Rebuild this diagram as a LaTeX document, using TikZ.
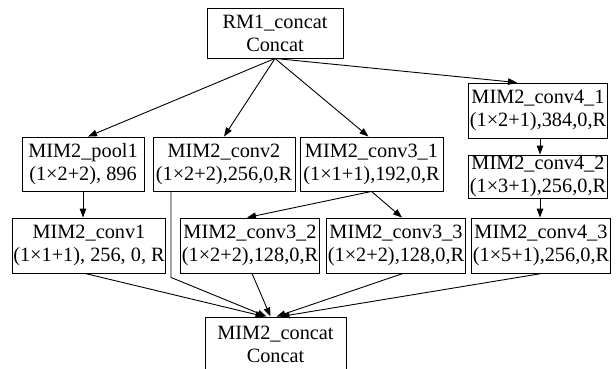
\documentclass[tikz,border=0pt]{standalone}
\usepackage{fontspec}
\setmainfont{Liberation Serif}
\usepackage{tikz}
\usetikzlibrary{arrows.meta,positioning}

\begin{document}
\begin{tikzpicture}[
  x=1pt,y=-1pt,
  font=\fontsize{20.3}{23}\selectfont,
  blk/.style={draw,line width=0.9pt,align=center,inner sep=1pt,
              minimum height=55pt},
  a/.style={-{Triangle[length=9pt,width=6.5pt]},line width=0.9pt}]
\useasboundingbox (0,0) rectangle (616,369);

\node[blk,minimum width=136pt,minimum height=50pt] (rmc) at (275,33)  {RM1\_concat\\Concat};
\node[blk,minimum width=122pt,minimum height=54pt] (pool) at (83,164)  {MIM2\_pool1\\(1×2+2), 896};
\node[blk,minimum width=142pt,minimum height=54pt] (cv2)  at (224,164) {MIM2\_conv2\\(1×2+2),256,0,R};
\node[blk,minimum width=143pt,minimum height=54pt] (cv31) at (371.5,164) {MIM2\_conv3\_1\\(1×1+1),192,0,R};
\node[blk,minimum width=138pt] (cv41) at (538,110.5) {MIM2\_conv4\_1\\(1×2+1),384,0,R};
\node[blk,minimum width=138pt,minimum height=43pt] (cv42) at (538,176.5) {MIM2\_conv4\_2\\(1×3+1),256,0,R};

\node[blk,minimum width=152pt] (cv1)  at (89,245.5)  {MIM2\_conv1\\(1×1+1), 256, 0, R};
\node[blk,minimum width=136pt] (cv32) at (250,245.5) {MIM2\_conv3\_2\\(1×2+2),128,0,R};
\node[blk,minimum width=134pt] (cv33) at (396,245.5) {MIM2\_conv3\_3\\(1×2+2),128,0,R};
\node[blk,minimum width=136pt] (cv43) at (541,245.5) {MIM2\_conv4\_3\\(1×5+1),256,0,R};

\node[blk,minimum width=141pt] (mcat) at (275.5,344.5) {MIM2\_concat\\Concat};

% fan out from the first concat
\draw[a] (rmc.south) -- ([xshift=5pt]pool.north);
\draw[a] (rmc.south) -- (cv2.north);
\draw[a] (rmc.south) -- ([xshift=-3pt]cv31.north);
\draw[a] (rmc.south) -- ([xshift=-21pt]cv41.north);

\draw[a] (pool.south) -- (pool.south |- cv1.north);
\draw[a] (cv31.south) -- ([xshift=-3pt]cv32.north);
\draw[a] (cv31.south) -- ([xshift=6pt]cv33.north);
\draw[a] ([xshift=2pt]cv41.south) -- ([xshift=2pt]cv42.north);
\draw[a] ([xshift=2pt]cv42.south) -- ([xshift=-1pt]cv43.north);

% everything joins in the second concat
\draw[a] ([xshift=-4pt]cv1.south) -- ([xshift=-11pt]mcat.north);
\draw[a] ([xshift=-53pt]cv2.south) -- ++(0,86) -- ([xshift=-9pt]mcat.north);
\draw[a] ([xshift=2pt]cv32.south) -- ([xshift=-5pt]mcat.north);
\draw[a] ([xshift=7pt]cv33.south) -- ([xshift=1pt]mcat.north);
\draw[a] ([xshift=1pt]cv43.south) -- ([xshift=5pt]mcat.north);
\end{tikzpicture}
\end{document}
